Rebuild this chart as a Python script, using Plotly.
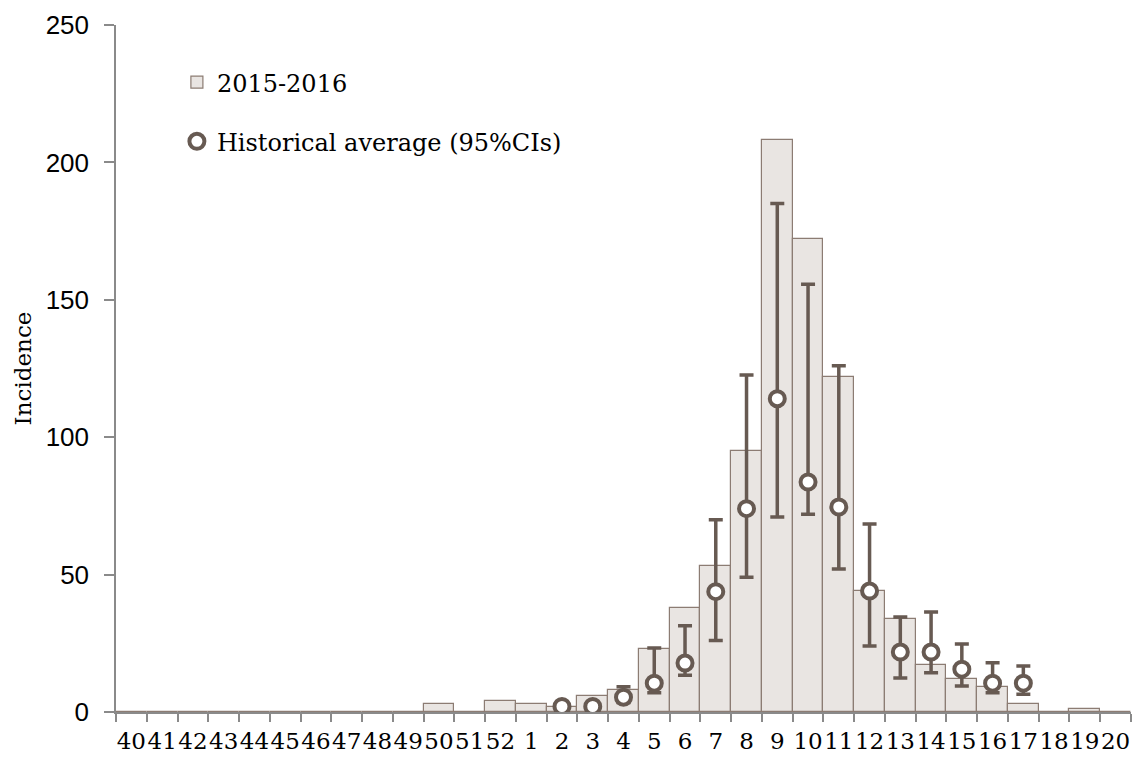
import plotly.graph_objects as go

# week numbers for the season (week 40 of 2015 to week 20 of 2016)
weeks = [str(w) for w in range(40, 53)] + [str(w) for w in range(1, 21)]

# weekly incidence 2015-2016
incidence = [0, 0, 0, 0, 0, 0, 0, 0, 0, 0, 3, 0, 4,
             3, 2, 6, 8, 23, 38, 53, 95, 208, 172, 122, 44, 34, 17, 12, 9, 3, 0, 1, 0]

# historical average with 95% CIs (weeks 2-17)
hist_weeks = [str(w) for w in range(2, 18)]
hist_mean = [2, 2, 5.4, 10.5, 17.8, 43.8, 74, 114, 83.7, 74.6, 44, 21.8, 21.8, 15.6, 10.5, 10.5]
hist_lower = [1.2, 1.2, 3.5, 7, 13.4, 26, 49, 71, 72, 52, 24, 12.4, 14.3, 9.5, 7, 6.5]
hist_upper = [2.8, 2.8, 9.2, 23.3, 31.4, 70, 122.6, 185, 155.7, 126, 68.4, 34.6, 36.4, 24.7, 17.9, 16.7]

serif = "DejaVu Serif"
sans = "Liberation Sans"
axis_grey = "#8a8a8a"
dark = "#675a52"

fig = go.Figure()

fig.add_trace(go.Bar(
    x=weeks,
    y=incidence,
    name="2015-2016",
    legendgroup="season",
    marker=dict(color="#e9e5e2", line=dict(color="#8c7c73", width=1.2)),
))

fig.add_trace(go.Scatter(
    x=hist_weeks,
    y=hist_mean,
    name="Historical average (95%CIs)",
    legendgroup="hist",
    mode="markers",
    marker=dict(symbol="circle", size=15, color="white", line=dict(color=dark, width=4)),
    error_y=dict(
        type="data",
        symmetric=False,
        array=[u - m for u, m in zip(hist_upper, hist_mean)],
        arrayminus=[m - l for m, l in zip(hist_mean, hist_lower)],
        color=dark,
        thickness=3.5,
        width=7,
    ),
))

# page body has an 8px margin, so the figure is drawn slightly smaller and offset
fig.update_layout(
    width=1125,
    height=749,
    template="plotly_white",
    plot_bgcolor="white",
    paper_bgcolor="white",
    margin=dict(l=108, r=2, t=17, b=45),
    bargap=0,
    font=dict(family=serif, size=22, color="black"),
    legend=dict(
        x=0.06, y=0.949, xanchor="left", yanchor="top",
        bgcolor="rgba(0,0,0,0)",
        font=dict(family=serif, size=24),
        tracegroupgap=25,
        itemwidth=30,
    ),
    xaxis=dict(
        type="category",
        categoryorder="array",
        categoryarray=weeks,
        automargin=False,
        showgrid=False,
        showline=True,
        linecolor=axis_grey,
        linewidth=1.5,
        ticks="outside",
        tickson="boundaries",
        ticklen=8,
        tickcolor=axis_grey,
        tickwidth=1.5,
        tickangle=0,
        ticklabelstandoff=8,
        tickfont=dict(family=serif, size=23),
        zeroline=False,
    ),
    yaxis=dict(
        range=[0, 250],
        tickvals=[0, 50, 100, 150, 200, 250],
        automargin=False,
        showgrid=False,
        showline=True,
        linecolor=axis_grey,
        linewidth=1.5,
        ticks="outside",
        ticklen=10,
        tickcolor=axis_grey,
        tickwidth=1.5,
        ticklabelstandoff=10,
        tickfont=dict(family=sans, size=26),
        zeroline=False,
        title=dict(text="Incidence", font=dict(family=serif, size=23), standoff=8),
    ),
)

fig.write_html("out.html")
